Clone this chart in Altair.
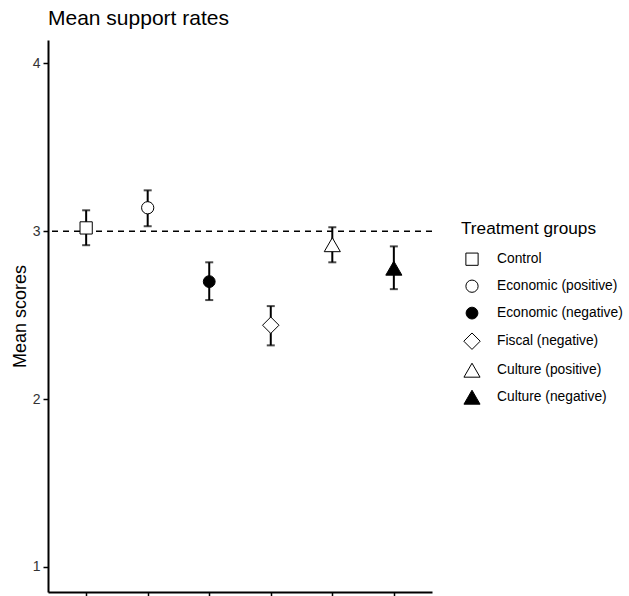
import altair as alt
import pandas as pd

groups = ["Control", "Economic (positive)", "Economic (negative)",
          "Fiscal (negative)", "Culture (positive)", "Culture (negative)"]
means = [3.02, 3.14, 2.70, 2.44, 2.92, 2.78]
lower = [2.917, 3.03, 2.59, 2.32, 2.815, 2.655]
upper = [3.125, 3.244, 2.815, 2.554, 3.024, 2.91]
shapes = ["square", "circle", "circle", "diamond", "triangle-up", "triangle-up"]
fills = ["white", "white", "black", "white", "white", "black"]
strokes = ["black", "black", "black", "black", "black", "black"]
sizes = [150, 150, 140, 270, 260, 260]
reference = [3]

df = pd.DataFrame({"group": groups, "mean": means, "lo": lower, "hi": upper})
ref = pd.DataFrame({"y": reference})

FONT = "Liberation Sans"

x = alt.X("group:N", sort=groups, scale=alt.Scale(type="point", padding=0.62),
          axis=alt.Axis(title=None, labels=False, ticks=True, tickSize=6,
                        tickColor="black", tickWidth=1.5, domainColor="black",
                        domainWidth=2, grid=False))
yscale = alt.Scale(domain=[0.85, 4.14], nice=False, zero=False)
y = alt.Y("mean:Q", scale=yscale,
          axis=alt.Axis(title="Mean scores", values=[1, 2, 3, 4], format="d", grid=False,
                        tickSize=5, tickColor="black", tickWidth=1.5,
                        domainColor="black", domainWidth=2,
                        labelFontSize=14, labelColor="#333333", labelFont=FONT,
                        titleFont=FONT, titleFontSize=18, titleFontWeight="normal",
                        titleColor="black", labelPadding=3, titlePadding=3))

refline = alt.Chart(ref).mark_rule(color="black", strokeWidth=1.5, strokeDash=[6, 5]).encode(
    y=alt.Y("y:Q", scale=yscale)
)

bars = alt.Chart(df).mark_rule(color="black", strokeWidth=2).encode(
    x=x, y=alt.Y("lo:Q", scale=yscale), y2="hi:Q"
)
caps_lo = alt.Chart(df).mark_tick(color="black", size=8, thickness=2).encode(
    x=x, y=alt.Y("lo:Q", scale=yscale)
)
caps_hi = alt.Chart(df).mark_tick(color="black", size=8, thickness=2).encode(
    x=x, y=alt.Y("hi:Q", scale=yscale)
)

leg = alt.Legend(title="Treatment groups", orient="none", legendX=413, legendY=180,
                 titleFont=FONT, titleFontSize=17.2, titleFontWeight="normal",
                 titleColor="black", labelFont=FONT, labelFontSize=13.8,
                 labelColor="black", symbolStrokeColor="black",
                 symbolStrokeWidth=1, rowPadding=9, labelOffset=16, symbolOffset=2,
                 titlePadding=15, offset=0)

points = alt.Chart(df).mark_point(filled=False, color="black",
                                  strokeWidth=1, opacity=1).encode(
    x=x, y=y,
    shape=alt.Shape("group:N", sort=groups,
                    scale=alt.Scale(domain=groups, range=shapes), legend=leg),
    fill=alt.Fill("group:N", sort=groups,
                  scale=alt.Scale(domain=groups, range=fills), legend=leg),
    stroke=alt.Stroke("group:N", sort=groups,
                      scale=alt.Scale(domain=groups, range=strokes), legend=leg),
    size=alt.Size("group:N", sort=groups,
                  scale=alt.Scale(type="ordinal", domain=groups, range=sizes), legend=leg),
)

chart = alt.layer(refline, bars, caps_lo, caps_hi, points).properties(
    width=384, height=552,
    background="white",
    title=alt.Title("Mean support rates", anchor="start", frame="group", fontSize=21,
                    font=FONT, fontWeight="normal", color="black", offset=11),
    padding={"left": 48, "top": 40, "right": 197, "bottom": 4},
    autosize=alt.AutoSizeParams(type="none"),
).configure_view(strokeWidth=0, stroke=None)

chart.save("out.html", embed_options={"renderer": "svg", "actions": False})
